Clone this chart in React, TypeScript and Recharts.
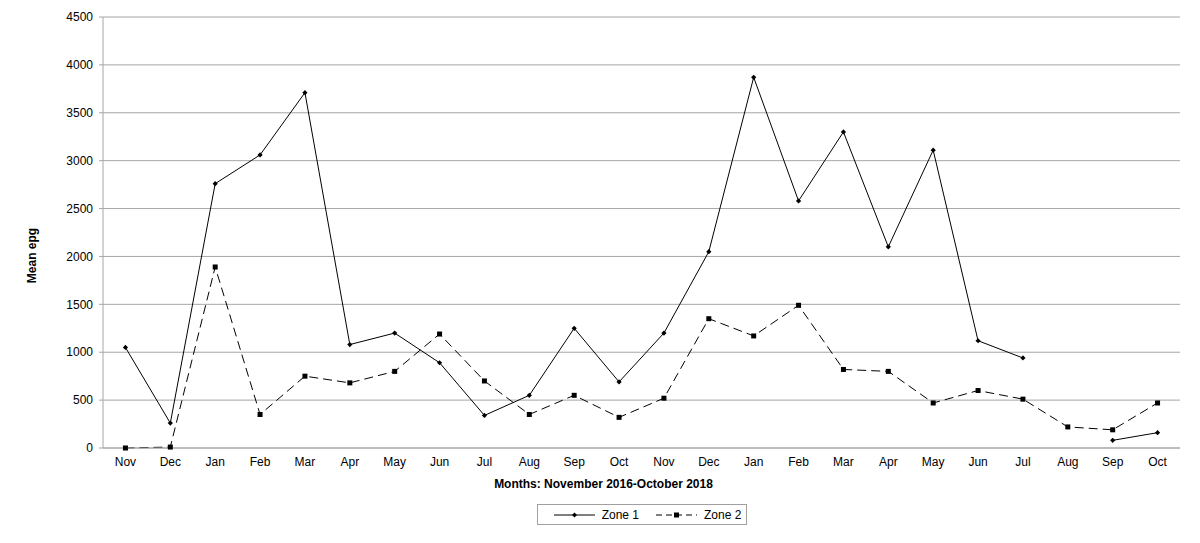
import { CartesianGrid, Label, Legend, Line, LineChart, XAxis, YAxis } from "recharts";

const months = [
  "Nov", "Dec", "Jan", "Feb", "Mar", "Apr", "May", "Jun", "Jul", "Aug", "Sep", "Oct",
  "Nov", "Dec", "Jan", "Feb", "Mar", "Apr", "May", "Jun", "Jul", "Aug", "Sep", "Oct"
];

const zone1 = [
  1050, 260, 2760, 3060, 3710, 1080, 1200, 890, 340, 550, 1250, 690,
  1200, 2050, 3870, 2580, 3300, 2100, 3110, 1120, 940, null, 80, 160
];

const zone2 = [
  0, 10, 1890, 350, 750, 680, 800, 1190, 700, 350, 550, 320,
  520, 1350, 1170, 1490, 820, 800, 470, 600, 510, 220, 190, 470
];

const yTicks = [0, 500, 1000, 1500, 2000, 2500, 3000, 3500, 4000, 4500];
const edgeTicks = Array.from({ length: months.length + 1 }, (_, i) => i);

const data = months.map((m, i) => ({ month: m, idx: i, zone1: zone1[i], zone2: zone2[i] }));

const FONT = "'Liberation Sans', Arial, sans-serif";
const GRID = "#a6a6a6";

function Diamond({ cx, cy }: any) {
  if (cx == null || cy == null) return null;
  const r = 2.6;
  return <polygon points={`${cx},${cy - r} ${cx + r},${cy} ${cx},${cy + r} ${cx - r},${cy}`} fill="#000" />;
}

function Square({ cx, cy }: any) {
  if (cx == null || cy == null) return null;
  const s = 2.5;
  return <rect x={cx - s} y={cy - s} width={s * 2} height={s * 2} fill="#000" />;
}

function LegendBox() {
  const item = (dash: string | undefined, marker: "d" | "s", name: string, gapAfter: number) => (
    <span style={{ display: "inline-flex", alignItems: "center", marginRight: gapAfter }}>
      <svg width={41} height={10} style={{ marginRight: 7 }}>
        <line x1={0} y1={5} x2={41} y2={5} stroke="#000" strokeWidth={1} strokeDasharray={dash} />
        {marker === "d" ? (
          <polygon points="20.5,2.5 23,5 20.5,7.5 18,5" fill="#000" />
        ) : (
          <rect x={18} y={2.5} width={5} height={5} fill="#000" />
        )}
      </svg>
      {name}
    </span>
  );
  return (
    <div style={{ display: "flex", justifyContent: "center", paddingLeft: 104 }}>
      <div
        style={{
          marginTop: 6,
          height: 19,
          border: "1px solid #a0a0a0",
          display: "flex",
          alignItems: "center",
          padding: "0 5px 0 16px",
          fontFamily: FONT,
          fontSize: 12,
          color: "#000"
        }}
      >
        {item(undefined, "d", "Zone 1", 17)}
        {item("6 4", "s", "Zone 2", 0)}
      </div>
    </div>
  );
}

export default function App() {
  return (
    <div>
      <style>{"body{margin:0;}"}</style>
      <LineChart
        width={1200}
        height={543}
        data={data}
        margin={{ top: 17, right: 20, bottom: 0, left: 0 }}
        style={{ fontFamily: FONT }}
      >
        <CartesianGrid vertical={false} stroke={GRID} />
        <XAxis
          xAxisId="edges"
          type="number"
          dataKey="idx"
          domain={[0, months.length]}
          ticks={edgeTicks}
          tick={false}
          tickSize={4}
          tickLine={{ stroke: GRID }}
          axisLine={false}
          height={0}
        />
        <XAxis
          dataKey="month"
          padding={{ left: 22.44, right: 22.44 }}
          interval={0}
          height={50}
          tickLine={false}
          tickSize={5}
          tickMargin={4}
          axisLine={{ stroke: GRID }}
          tick={{ fill: "#000", fontSize: 12 }}
        >
          <Label
            value="Months: November 2016-October 2018"
            position="insideBottom"
            offset={10}
            dx={-38}
            style={{ fontWeight: "bold", fontSize: 12, fill: "#000" }}
          />
        </XAxis>
        <YAxis
          domain={[0, 4500]}
          ticks={yTicks}
          width={103}
          tickLine={{ stroke: GRID }}
          tickSize={4}
          tickMargin={6}
          axisLine={{ stroke: GRID }}
          tick={{ fill: "#000", fontSize: 12 }}
        >
          <Label
            content={({ viewBox }: any) => {
              const x = viewBox.x + 32;
              const y = viewBox.y + viewBox.height / 2 + 23;
              return (
                <text
                  x={x}
                  y={y}
                  transform={`rotate(-90 ${x} ${y})`}
                  textAnchor="middle"
                  dominantBaseline="central"
                  style={{ fontWeight: "bold", fontSize: 12, fill: "#000" }}
                >
                  Mean epg
                </text>
              );
            }}
          />
        </YAxis>
        <YAxis
          yAxisId="right"
          orientation="right"
          width={0}
          tick={false}
          tickLine={false}
          axisLine={{ stroke: GRID }}
        />
        <Legend verticalAlign="bottom" height={45} content={() => <LegendBox />} />
        <Line
          type="linear"
          dataKey="zone1"
          name="Zone 1"
          stroke="#000"
          strokeWidth={1}
          dot={<Diamond />}
          activeDot={false}
          isAnimationActive={false}
        />
        <Line
          type="linear"
          dataKey="zone2"
          name="Zone 2"
          stroke="#000"
          strokeWidth={1}
          strokeDasharray="9 5"
          dot={<Square />}
          activeDot={false}
          isAnimationActive={false}
        />
      </LineChart>
    </div>
  );
}
